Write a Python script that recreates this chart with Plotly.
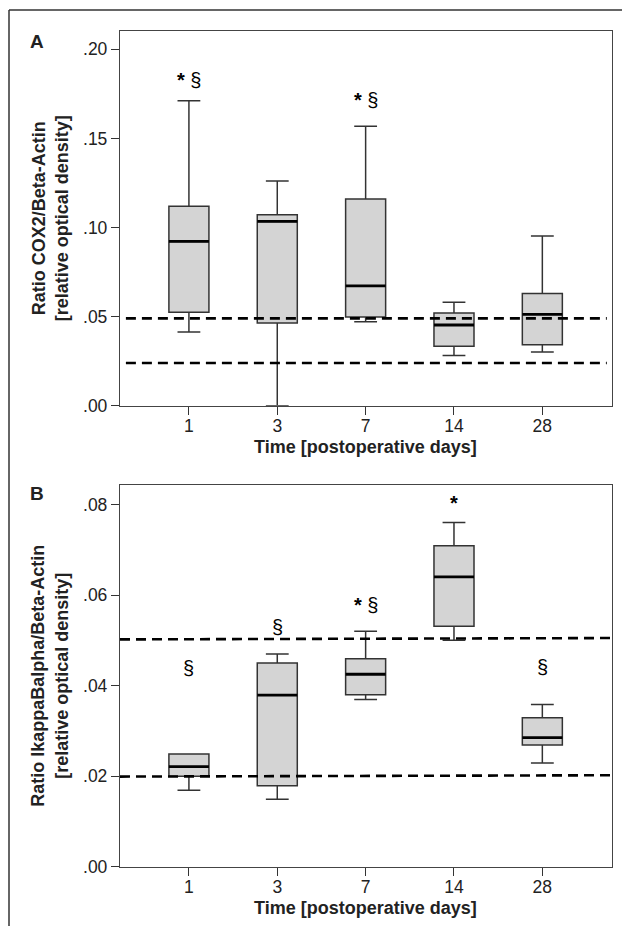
import plotly.graph_objects as go

# ---------------- data ----------------
days = ["1", "3", "7", "14", "28"]

# Panel A: COX2 / Beta-Actin
a_low = [0.0413, 0.0000, 0.0471, 0.0282, 0.0301]
a_q1 = [0.0524, 0.0464, 0.0498, 0.0333, 0.0342]
a_med = [0.0922, 0.1034, 0.0672, 0.0453, 0.0513]
a_q3 = [0.1119, 0.1072, 0.1160, 0.0520, 0.0630]
a_high = [0.1712, 0.1261, 0.1569, 0.0580, 0.0952]
a_ref = [0.0490, 0.0240]
a_marks = ["<b>*</b> §", "", "<b>*</b> §", "", ""]
a_mark_y = [0.1828, None, 0.1716, None, None]

# Panel B: IkappaBalpha / Beta-Actin
b_low = [0.0169, 0.0149, 0.0369, 0.0500, 0.0229]
b_q1 = [0.0200, 0.0179, 0.0380, 0.0531, 0.0269]
b_med = [0.0221, 0.0379, 0.0425, 0.0640, 0.0285]
b_q3 = [0.0249, 0.0450, 0.0459, 0.0709, 0.0329]
b_high = [0.0249, 0.0470, 0.0520, 0.0760, 0.0358]
b_ref_left = [0.0502, 0.0199]
b_ref_right = [0.0505, 0.0202]
b_marks = ["§", "§", "<b>*</b> §", "<b>*</b>", "§"]
b_mark_y = [0.0438, 0.0530, 0.0578, 0.0804, 0.0442]

a_ticks = [0.0, 0.05, 0.10, 0.15, 0.20]
a_ticktext = [".00", ".05", ".10", ".15", ".20"]
b_ticks = [0.0, 0.02, 0.04, 0.06, 0.08]
b_ticktext = [".00", ".02", ".04", ".06", ".08"]

# ---------------- style ----------------
FONT = "Liberation Sans, Arial, Helvetica, sans-serif"
OFF = 8  # default page body margin
W, H = 630 - OFF, 926 - OFF
BOXW = 0.453
xpos = list(range(len(days)))


def px(x):
    return (x - OFF) / W


def py(y):
    return 1 - (y - OFF) / H


fig = go.Figure()


def add_panel(low, q1, med, q3, high, xa, ya):
    fig.add_trace(go.Box(
        x=xpos, q1=q1, median=med, q3=q3, lowerfence=low, upperfence=high,
        width=BOXW, whiskerwidth=0.57, fillcolor="#d4d4d4",
        line=dict(color="#333333", width=1.5), boxpoints=False,
        hoverinfo="skip", showlegend=False, xaxis=xa, yaxis=ya))
    mx, my = [], []
    for i, m in zip(xpos, med):
        mx += [i - BOXW / 2, i + BOXW / 2, None]
        my += [m, m, None]
    fig.add_trace(go.Scatter(
        x=mx, y=my, mode="lines", line=dict(color="black", width=2.8),
        hoverinfo="skip", showlegend=False, xaxis=xa, yaxis=ya))


add_panel(a_low, a_q1, a_med, a_q3, a_high, "x", "y")
add_panel(b_low, b_q1, b_med, b_q3, b_high, "x2", "y2")

xdom = [px(120), px(611.7)]
a_dom = [py(405.7), py(31)]
b_dom = [py(866.7), py(485)]

axis_common = dict(
    showline=True, mirror=True, linecolor="#444", linewidth=1.3,
    ticks="outside", ticklen=8, tickwidth=1.3, tickcolor="#333",
    showgrid=False, zeroline=False, automargin=False,
    tickfont=dict(family=FONT, size=17.5, color="#222"),
)

fig.update_layout(
    width=W, height=H,
    margin=dict(l=0, r=0, t=0, b=0),
    paper_bgcolor="white", plot_bgcolor="white",
    xaxis=dict(domain=xdom, range=[-0.78, 4.785], tickvals=xpos, ticktext=days,
               anchor="y", ticklabelstandoff=-4, **axis_common),
    yaxis=dict(domain=a_dom, range=[0, 0.2103], tickvals=a_ticks, ticktext=a_ticktext,
               anchor="x", **axis_common),
    xaxis2=dict(domain=xdom, range=[-0.78, 4.785], tickvals=xpos, ticktext=days,
                anchor="y2", ticklabelstandoff=-4, **axis_common),
    yaxis2=dict(domain=b_dom, range=[0, 0.0843], tickvals=b_ticks, ticktext=b_ticktext,
                anchor="x2", **axis_common),
    showlegend=False,
)

# reference dashed lines
for v in a_ref:
    fig.add_shape(type="line", xref="x domain", yref="y", x0=0.012, x1=0.99, y0=v, y1=v,
                  line=dict(color="black", width=2.6, dash="10px,6px"))
for v0, v1 in zip(b_ref_left, b_ref_right):
    fig.add_shape(type="line", xref="x2 domain", yref="y2", x0=0.0, x1=1.0, y0=v0, y1=v1,
                  line=dict(color="black", width=2.6, dash="10px,6px"))

# outer frame (top and left)
fx = px(9)
fy = py(10)
fig.add_shape(type="line", xref="paper", yref="paper", x0=fx, x1=1, y0=fy, y1=fy,
              line=dict(color="#666", width=2))
fig.add_shape(type="line", xref="paper", yref="paper", x0=fx, x1=fx, y0=0, y1=fy,
              line=dict(color="#333", width=1.5))

# significance marks
for i, (t, yv) in enumerate(zip(a_marks, a_mark_y)):
    if t:
        fig.add_annotation(x=i, y=yv, xref="x", yref="y", text=t, showarrow=False,
                           font=dict(family=FONT, size=20, color="black"))
for i, (t, yv) in enumerate(zip(b_marks, b_mark_y)):
    if t:
        fig.add_annotation(x=i, y=yv, xref="x2", yref="y2", text=t, showarrow=False,
                           font=dict(family=FONT, size=20, color="black"))

# axis titles
ytitle_x = px(50)
fig.add_annotation(x=ytitle_x, y=0.5, xref="paper", yref="y domain", textangle=-90,
                   text="<b>Ratio COX2/Beta-Actin<br>[relative optical density]</b>",
                   showarrow=False, xanchor="center", yanchor="middle",
                   font=dict(family=FONT, size=18, color="#222"))
fig.add_annotation(x=ytitle_x, y=0.5, xref="paper", yref="y2 domain", textangle=-90,
                   text="<b>Ratio IkappaBalpha/Beta-Actin<br>[relative optical density]</b>",
                   showarrow=False, xanchor="center", yanchor="middle",
                   font=dict(family=FONT, size=18, color="#222"))
fig.add_annotation(x=0.5, y=py(447), xref="x domain", yref="paper",
                   text="<b>Time [postoperative days]</b>", showarrow=False,
                   xanchor="center", yanchor="middle",
                   font=dict(family=FONT, size=18, color="#222"))
fig.add_annotation(x=0.5, y=py(908), xref="x2 domain", yref="paper",
                   text="<b>Time [postoperative days]</b>", showarrow=False,
                   xanchor="center", yanchor="middle",
                   font=dict(family=FONT, size=18, color="#222"))

# panel letters
fig.add_annotation(x=px(37), y=py(42), xref="paper", yref="paper", text="<b>A</b>",
                   showarrow=False, xanchor="center", yanchor="middle",
                   font=dict(family=FONT, size=19, color="#222"))
fig.add_annotation(x=px(37), y=py(493), xref="paper", yref="paper", text="<b>B</b>",
                   showarrow=False, xanchor="center", yanchor="middle",
                   font=dict(family=FONT, size=19, color="#222"))

fig.write_html("out.html")
